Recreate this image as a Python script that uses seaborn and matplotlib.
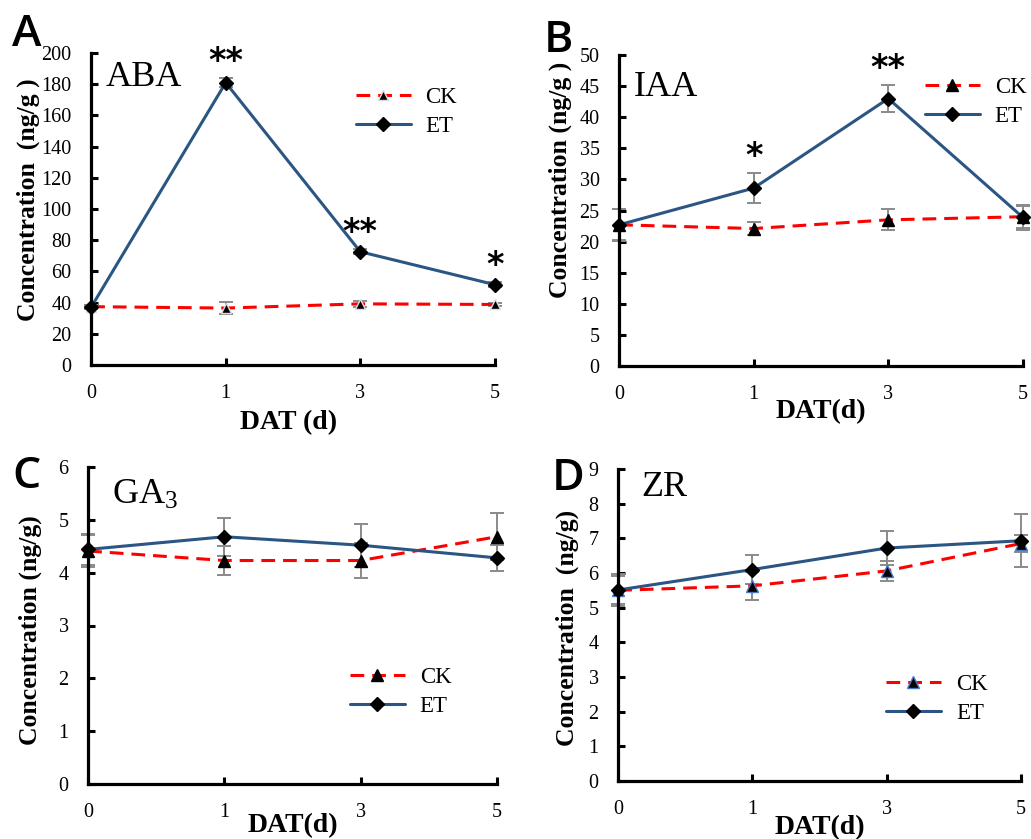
import numpy as np
import pandas as pd
import matplotlib
matplotlib.use("Agg")
import matplotlib.pyplot as plt
import seaborn as sns

# ---------------- data ----------------
days = ["0", "1", "3", "5"]

aba_ck = [37.4, 36.5, 39.2, 38.8]
aba_ck_err = [1.0, 4.0, 2.0, 1.0]
aba_et = [37.0, 181.0, 72.6, 51.5]
aba_et_err = [1.0, 3.0, 1.5, 1.5]
aba_sig = ["", "**", "**", "*"]

iaa_ck = [22.7, 22.1, 23.5, 24.0]
iaa_ck_err = [2.6, 1.1, 1.7, 1.8]
iaa_et = [22.7, 28.6, 43.0, 23.9]
iaa_et_err = [2.5, 2.4, 2.1, 2.0]
iaa_sig = ["", "*", "**", ""]

ga3_ck = [4.41, 4.23, 4.23, 4.68]
ga3_ck_err = [0.30, 0.28, 0.33, 0.44]
ga3_et = [4.44, 4.68, 4.52, 4.28]
ga3_et_err = [0.30, 0.36, 0.41, 0.24]
ga3_sig = ["", "", "", ""]

zr_ck = [5.50, 5.63, 6.06, 6.85]
zr_ck_err = [0.40, 0.41, 0.30, 0.25]
zr_et = [5.51, 6.10, 6.72, 6.93]
zr_et_err = [0.45, 0.41, 0.48, 0.77]
zr_sig = ["", "", "", ""]

# ---------------- style ----------------
sns.set_theme(style="white")
plt.rcParams["font.family"] = ["Liberation Serif", "DejaVu Serif"]
plt.rcParams["mathtext.fontset"] = "custom"
plt.rcParams["mathtext.rm"] = "Liberation Serif"
plt.rcParams["mathtext.it"] = "Liberation Serif:italic"
plt.rcParams["mathtext.bf"] = "Liberation Serif:bold"
plt.rcParams["text.color"] = "black"
plt.rcParams["axes.labelcolor"] = "black"
plt.rcParams["xtick.color"] = "black"
plt.rcParams["ytick.color"] = "black"

CK_COLOR = "#ff0000"
ET_COLOR = "#2b5583"
ERR_COLOR = "#8a8a8a"

fig = plt.figure(figsize=(10.31, 8.39), dpi=100)
W, H = 1031, 839


def rect(l, r, t, b):
    return [l / W, 1 - b / H, (r - l) / W, (b - t) / H]


panels = [
    dict(letter="A", title="ABA", ck=aba_ck, ckerr=aba_ck_err, et=aba_et, eterr=aba_et_err,
         sig=aba_sig, ymax=200, step=20, ylabel="Concentration\u2002(ng/g )", xlabel="DAT (d)",
         rect=rect(91, 495, 53, 365), leg=(0.655, 0.89), ylab=(-0.156, 0.53), xlab=(0.49, -0.185),
         tpos=(0.037, 0.923), lpos=(12, 34), ck_edge="#dddddd", ms_ck=7),
    dict(letter="B", title="IAA", ck=iaa_ck, ckerr=iaa_ck_err, et=iaa_et, eterr=iaa_et_err,
         sig=iaa_sig, ymax=50, step=5, ylabel="Concentration (ng/g )", xlabel="DAT(d)",
         rect=rect(619, 1023, 55, 366), leg=(0.757, 0.93), ylab=(-0.146, 0.60), xlab=(0.5, -0.148),
         tpos=(0.037, 0.897), lpos=(544, 40), ck_edge="black", ms_ck=8),
    dict(letter="C", title=r"GA$_{\mathrm{3}}$", ck=ga3_ck, ckerr=ga3_ck_err, et=ga3_et, eterr=ga3_et_err,
         sig=ga3_sig, ymax=6, step=1, ylabel="Concentration (ng/g)", xlabel="DAT(d)",
         rect=rect(88, 497, 467, 784), leg=(0.64, 0.37), ylab=(-0.142, 0.486), xlab=(0.5, -0.13),
         tpos=(0.059, 0.91), lpos=(12, 476), ck_edge="black", ms_ck=8),
    dict(letter="D", title="ZR", ck=zr_ck, ckerr=zr_ck_err, et=zr_et, eterr=zr_et_err,
         sig=zr_sig, ymax=9, step=1, ylabel="Concentration\u2002(ng/g)", xlabel="DAT(d)",
         rect=rect(618, 1021, 469, 781), leg=(0.665, 0.343), ylab=(-0.126, 0.49), xlab=(0.5, -0.15),
         tpos=(0.057, 0.94), lpos=(552, 478), ck_edge="#4a78c8", ms_ck=8),
]

for p in panels:
    ax = fig.add_axes(p["rect"])
    df = pd.DataFrame({
        "DAT": days * 2,
        "value": list(p["ck"]) + list(p["et"]),
        "err": list(p["ckerr"]) + list(p["eterr"]),
        "group": ["CK"] * 4 + ["ET"] * 4,
    })
    ck = df[df.group == "CK"]
    et = df[df.group == "ET"]

    # error bars
    for sub in (ck, et):
        ax.errorbar(sub["DAT"], sub["value"], yerr=sub["err"], fmt="none",
                    ecolor=ERR_COLOR, elinewidth=1.4, capsize=5, capthick=1.4,
                    zorder=2, clip_on=False)

    sns.lineplot(data=ck, x="DAT", y="value", ax=ax, color=CK_COLOR, linewidth=2.2,
                 linestyle=(0, (4.5, 2.6)), marker="^", markersize=p["ms_ck"],
                 markerfacecolor="black", markeredgecolor=p["ck_edge"], markeredgewidth=1.0,
                 label="CK", sort=False, zorder=3, clip_on=False)
    sns.lineplot(data=et, x="DAT", y="value", ax=ax, color=ET_COLOR, linewidth=2.2,
                 marker="D", markersize=7.5, markerfacecolor="black", markeredgecolor="black",
                 markeredgewidth=1.0, label="ET", sort=False, zorder=4, clip_on=False)

    # significance marks
    for d, v, e, s in zip(et["DAT"], et["value"], et["err"], p["sig"]):
        if s:
            ax.annotate(s, xy=(d, v + e), xytext=(0, 12), textcoords="offset points",
                        ha="center", va="center", fontsize=24, fontweight="bold",
                        fontfamily="DejaVu Sans", color="black")

    ax.set_xlim(-0.001, 3.001)
    ax.set_ylim(0, p["ymax"])
    ax.set_yticks(np.arange(0, p["ymax"] + p["step"] / 2, p["step"]))
    for s in ("top", "right"):
        ax.spines[s].set_visible(False)
    for s in ("left", "bottom"):
        ax.spines[s].set_linewidth(2.3)
        ax.spines[s].set_color("black")
    ax.tick_params(axis="both", direction="in", length=5, width=2.2, colors="black",
                   labelsize=14.5, left=True, bottom=True)
    ax.tick_params(axis="y", pad=14)
    ax.tick_params(axis="x", pad=14)

    ax.set_ylabel(p["ylabel"], fontsize=18.5, fontweight="bold")
    ax.yaxis.label.set_va("center")
    ax.yaxis.set_label_coords(*p["ylab"])
    ax.set_xlabel(p["xlabel"], fontsize=20, fontweight="bold")
    ax.xaxis.label.set_va("center")
    ax.xaxis.set_label_coords(*p["xlab"])

    ax.text(p["tpos"][0], p["tpos"][1], p["title"], transform=ax.transAxes,
            fontsize=26, ha="left", va="center", color="black")

    leg = ax.legend(loc="upper left", bbox_to_anchor=p["leg"], frameon=False,
                    fontsize=16.5, handlelength=2.4, handletextpad=0.65,
                    labelspacing=0.35, borderpad=0, borderaxespad=0)
    for t in leg.get_texts():
        t.set_color("black")

    fig.text(p["lpos"][0] / W, 1 - p["lpos"][1] / H, p["letter"], fontsize=32,
             fontfamily="Open Sans", fontweight="semibold", ha="left", va="center",
             color="black")

fig.savefig("out.png", dpi=100)
